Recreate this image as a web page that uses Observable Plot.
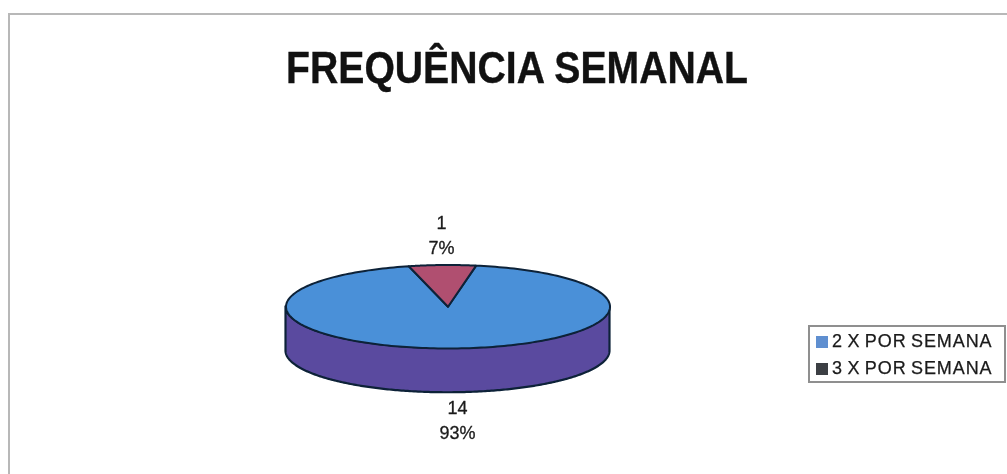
<!DOCTYPE html>
<html><head><meta charset="utf-8">
<script src="https://cdn.jsdelivr.net/npm/d3@7"></script>
<script src="https://cdn.jsdelivr.net/npm/@observablehq/plot@0.6"></script>
<style>
html,body{margin:0;padding:0;background:#fff}
#wrap{position:relative;width:1007px;height:474px;overflow:hidden;font-family:"Liberation Sans",Arial,sans-serif;color:#1a1a1a}
#frame{position:absolute;left:8px;top:13px;width:1010px;height:480px;border:2px solid #b8b8b8;box-sizing:border-box}
#title{position:absolute;left:0;width:1034px;top:41px;text-align:center;font-weight:bold;font-size:45px;line-height:54px;color:#111;transform:scaleX(.87);transform-origin:517px 0;white-space:nowrap;-webkit-text-stroke:.4px #111}
#legend{position:absolute;left:808px;top:325px;width:198px;height:58px;border:2px solid #8f8f8f;box-sizing:border-box;background:#fff;font-size:18px;letter-spacing:.9px;-webkit-text-stroke:.25px #1a1a1a}
.row{position:absolute;left:6px;height:26px;line-height:26px;white-space:nowrap}
.sw{display:inline-block;width:12px;height:12px;margin-right:4px;vertical-align:-1px}
svg{position:absolute;left:0;top:0}
</style></head><body>
<div id="wrap"><div id="frame"></div><div id="title"></div><div id="plot"></div><div id="legend"></div></div>
<script>
const titleText = "FREQUÊNCIA SEMANAL";
const categories = ["2 X POR SEMANA", "3 X POR SEMANA"];
const counts = [14, 1];
const percents = ["93%", "7%"];
const topColors = ["#4a90d8", "#b04f70"];
const sideColors = ["#5a4a9f", "#5a4a9f"];
const legendColors = ["#5f8fd0", "#3c3f44"];
const firstSliceAngle = 10;
const depth = 1.06;

document.getElementById("title").textContent = titleText;
const legend = document.getElementById("legend");
categories.forEach((c, i) => {
  const r = document.createElement("div");
  r.className = "row"; r.style.top = (1 + i * 27) + "px";
  const s = document.createElement("span");
  s.className = "sw"; s.style.background = legendColors[i];
  r.append(s, c.replace(/ /g, "\u2009"));
  legend.append(r);
});

const total = d3.sum(counts);
const rad = d => d * Math.PI / 180;
const pt = a => ({x: Math.sin(rad(a)), y: Math.cos(rad(a))});
let acc = firstSliceAngle;
const slices = counts.map((v, i) => {
  const a0 = acc, a1 = acc + v / total * 360; acc = a1;
  return {i, a0, a1, mid: (a0 + a1) / 2};
});
const arc = (a0, a1) => d3.range(0, 241).map(k => a0 + (a1 - a0) * k / 240);
const wedge = s => [{x: 0, y: 0}, ...arc(s.a0, s.a1).map(pt), {x: 0, y: 0}];
const side = arc(90, 270).map(pt).map(p => ({x: p.x, y1: p.y, y2: p.y - depth}));
const labels = [
  {text: counts[0] + "\n" + percents[0], x: 0.059, y: -2.68},
  {text: counts[1] + "\n" + percents[1], x: -0.04, y: 1.75}
];

const chart = Plot.plot({
  width: 1007, height: 474,
  margin: 0,
  style: {background: "transparent"},
  x: {domain: [-1, 1], range: [285.5, 609.5], axis: null},
  y: {domain: [-1, 1], range: [348, 264.5], axis: null},
  marks: [
    Plot.areaY(side, {x: "x", y1: "y1", y2: "y2", fill: sideColors[0], stroke: "#0d2238", strokeWidth: 2.2, curve: "linear"}),
    ...slices.map(s => Plot.line(wedge(s), {x: "x", y: "y", fill: topColors[s.i], stroke: "#0d2238", strokeWidth: 2, curve: "linear", strokeLinejoin: "round"})),
    Plot.text(labels, {x: "x", y: "y", text: "text", fontSize: 18, lineHeight: 1.39, fill: "#1a1a1a", stroke: "#1a1a1a", strokeWidth: 0.3, fontFamily: "Liberation Sans"})
  ]
});
document.getElementById("plot").append(chart);
document.getElementById("wrap").style.filter = "blur(0.5px)";
</script>
</body></html>
